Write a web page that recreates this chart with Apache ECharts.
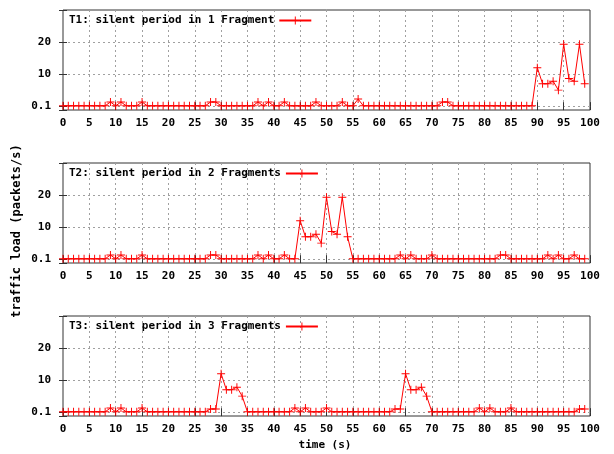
<!DOCTYPE html>
<html>
<head>
<meta charset="utf-8">
<script src="https://cdn.jsdelivr.net/npm/echarts@6/dist/echarts.min.js"></script>
<style>
html, body { margin: 0; padding: 0; background: #fff; }
#chart { width: 614px; height: 454px; }
</style>
</head>
<body>
<div id="chart"></div>
<script>
var names = ['T1: silent period in 1 Fragment', 'T2: silent period in 2 Fragments', 'T3: silent period in 3 Fragments'];
var yTickValues = [0, 10, 20];
var yTickLabels = ['0.1', '10', '20'];

// one sample per second, 0..99
var seconds = [];
for (var s = 0; s < 100; s++) seconds.push(s);

var t1 = [
  0.1, 0.1, 0.1, 0.1, 0.1, 0.1, 0.1, 0.1, 0.1, 1.3,
  0.1, 1.3, 0.1, 0.1, 0.1, 1.3, 0.1, 0.1, 0.1, 0.1,
  0.1, 0.1, 0.1, 0.1, 0.1, 0.1, 0.1, 0.1, 1.3, 1.3,
  0.1, 0.1, 0.1, 0.1, 0.1, 0.1, 0.1, 1.3, 0.1, 1.3,
  0.1, 0.1, 1.3, 0.1, 0.1, 0.1, 0.1, 0.1, 1.3, 0.1,
  0.1, 0.1, 0.1, 1.3, 0.1, 0.1, 2.2, 0.1, 0.1, 0.1,
  0.1, 0.1, 0.1, 0.1, 0.1, 0.1, 0.1, 0.1, 0.1, 0.1,
  0.1, 0.1, 1.3, 1.3, 0.1, 0.1, 0.1, 0.1, 0.1, 0.1,
  0.1, 0.1, 0.1, 0.1, 0.1, 0.1, 0.1, 0.1, 0.1, 0.1,
  12, 7, 7, 7.8, 5, 19.3, 8.6, 7.8, 19.3, 7
];
var t2 = [
  0.1, 0.1, 0.1, 0.1, 0.1, 0.1, 0.1, 0.1, 0.1, 1.3,
  0.1, 1.3, 0.1, 0.1, 0.1, 1.3, 0.1, 0.1, 0.1, 0.1,
  0.1, 0.1, 0.1, 0.1, 0.1, 0.1, 0.1, 0.1, 1.3, 1.3,
  0.1, 0.1, 0.1, 0.1, 0.1, 0.1, 0.1, 1.3, 0.1, 1.3,
  0.1, 0.1, 1.3, 0.1, 0.1, 12, 7, 7, 7.8, 5,
  19.3, 8.6, 7.8, 19.3, 7, 0.1, 0.1, 0.1, 0.1, 0.1,
  0.1, 0.1, 0.1, 0.1, 1.3, 0.1, 1.3, 0.1, 0.1, 0.1,
  1.3, 0.1, 0.1, 0.1, 0.1, 0.1, 0.1, 0.1, 0.1, 0.1,
  0.1, 0.1, 0.1, 1.3, 1.3, 0.1, 0.1, 0.1, 0.1, 0.1,
  0.1, 0.1, 1.3, 0.1, 1.3, 0.1, 0.1, 1.3, 0.1, 0.1
];
var t3 = [
  0.1, 0.1, 0.1, 0.1, 0.1, 0.1, 0.1, 0.1, 0.1, 1.3,
  0.1, 1.3, 0.1, 0.1, 0.1, 1.3, 0.1, 0.1, 0.1, 0.1,
  0.1, 0.1, 0.1, 0.1, 0.1, 0.1, 0.1, 0.1, 1, 1,
  12, 7, 7, 7.8, 5, 0.1, 0.1, 0.1, 0.1, 0.1,
  0.1, 0.1, 0.1, 0.1, 1.3, 0.1, 1.3, 0.1, 0.1, 0.1,
  1.3, 0.1, 0.1, 0.1, 0.1, 0.1, 0.1, 0.1, 0.1, 0.1,
  0.1, 0.1, 0.1, 1, 1, 12, 7, 7, 7.8, 5,
  0.1, 0.1, 0.1, 0.1, 0.1, 0.1, 0.1, 0.1, 0.1, 1.3,
  0.1, 1.3, 0.1, 0.1, 0.1, 1.3, 0.1, 0.1, 0.1, 0.1,
  0.1, 0.1, 0.1, 0.1, 0.1, 0.1, 0.1, 0.1, 1, 1
];
var values = [t1, t2, t3];

var FONT = '"DejaVu Sans Mono", monospace';
var tops = [10, 163, 316];
var plus = 'path://M4.4,0h1.2v4.4h4.4v1.2h-4.4v4.4h-1.2v-4.4h-4.4v-1.2h4.4z';

var grid = [], xAxis = [], yAxis = [], series = [], legend = [];
tops.forEach(function (top, i) {
  grid.push({ left: 63, right: 24, top: top, height: 100, show: true, borderColor: '#333', borderWidth: 1 });
  // bottom x axis with labels
  xAxis.push({
    gridIndex: i, type: 'value', min: 0, max: 100, interval: 5,
    axisLine: { show: false },
    axisTick: { inside: true, length: 4, lineStyle: { color: '#333' } },
    axisLabel: { margin: 8, fontFamily: FONT, fontWeight: 'bold', fontSize: 11, color: '#000' },
    splitLine: { show: true, showMinLine: false, showMaxLine: false, lineStyle: { color: '#a0a0a0', type: [2, 3] } }
  });
  // mirrored top ticks
  xAxis.push({
    gridIndex: i, type: 'value', position: 'top', min: 0, max: 100, interval: 5,
    axisLine: { show: false },
    axisTick: { inside: true, length: 4, lineStyle: { color: '#333' } },
    axisLabel: { show: false }, splitLine: { show: false }
  });
  yAxis.push({
    gridIndex: i, type: 'value', min: -1.2, max: 30, splitNumber: 3,
    axisLine: { show: false },
    axisTick: { inside: true, length: 4, lineStyle: { color: '#333' } },
    axisLabel: {
      margin: 12, fontFamily: FONT, fontWeight: 'bold', fontSize: 11, color: '#000',
      formatter: function (v) {
        var k = yTickValues.indexOf(v);
        return k < 0 ? '' : yTickLabels[k];
      }
    },
    splitLine: { show: true, showMinLine: false, showMaxLine: false, lineStyle: { color: '#a0a0a0', type: [2, 3] } }
  });
  yAxis.push({
    gridIndex: i, type: 'value', position: 'right', min: -1.2, max: 30, splitNumber: 3,
    axisLine: { show: false },
    axisTick: { inside: true, length: 4, lineStyle: { color: '#333' } },
    axisLabel: { show: false }, splitLine: { show: false }
  });
  series.push({
    name: names[i], type: 'line',
    xAxisIndex: i * 2, yAxisIndex: i * 2,
    data: values[i].map(function (v, k) { return [seconds[k], v]; }),
    symbol: plus, symbolSize: 8,
    lineStyle: { color: '#ff0000', width: 1 },
    itemStyle: { color: '#ff0000' }
  });
  legend.push({
    data: [names[i]], left: 69, top: top + 5, padding: 0,
    align: 'right', itemWidth: 32, itemHeight: 10,
    textStyle: { fontFamily: FONT, fontWeight: 'bold', fontSize: 11, color: '#000' }
  });
});

var chart = echarts.init(document.getElementById('chart'));
chart.setOption({
  animation: false,
  backgroundColor: '#fff',
  grid: grid,
  xAxis: xAxis,
  yAxis: yAxis,
  legend: legend,
  series: series,
  graphic: [
    {
      type: 'text', x: 17, y: 231, rotation: Math.PI / 2,
      style: { text: 'traffic load (packets/s)', align: 'center', verticalAlign: 'middle',
               font: 'bold 12px ' + FONT, fill: '#000' }
    },
    {
      type: 'text', x: 325, y: 445,
      style: { text: 'time (s)', align: 'center', verticalAlign: 'middle',
               font: 'bold 11px ' + FONT, fill: '#000' }
    }
  ]
});
</script>
</body>
</html>
